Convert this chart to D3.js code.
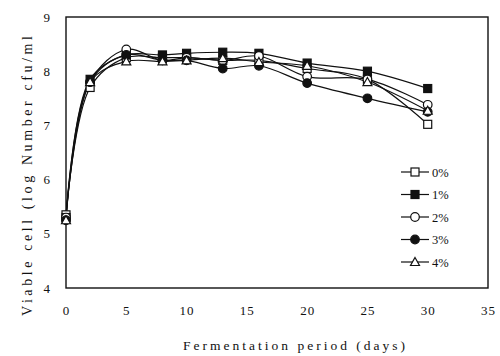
<!DOCTYPE html>
<html lang="en">
<head>
<meta charset="UTF-8">
<title>Viable cell</title>
<script src="https://d3js.org/d3.v7.min.js"></script>
<style>
body { margin: 0; background: #fff; }
text { font-family: 'Liberation Serif', 'DejaVu Serif', serif; fill: #111; }
</style>
</head>
<body>
<svg id="chart" width="500" height="356"></svg>
<script>
// data
const days = [0, 2, 5, 8, 10, 13, 16, 20, 25, 30];
const labels = ['0%', '1%', '2%', '3%', '4%'];
const pct0 = [5.35, 7.7, 8.25, 8.25, 8.25, 8.2, 8.2, 8.05, 7.85, 7.02];
const pct1 = [5.3, 7.85, 8.3, 8.3, 8.33, 8.35, 8.33, 8.15, 8.0, 7.68];
const pct2 = [5.3, 7.8, 8.4, 8.2, 8.25, 8.2, 8.28, 7.9, 7.85, 7.38];
const pct3 = [5.25, 7.8, 8.3, 8.2, 8.2, 8.05, 8.1, 7.78, 7.5, 7.25];
const pct4 = [5.25, 7.8, 8.18, 8.18, 8.2, 8.24, 8.17, 8.1, 7.8, 7.27];
const xTicks = [0, 5, 10, 15, 20, 25, 30, 35];
const yTicks = [4, 5, 6, 7, 8, 9];

const series = [pct0, pct1, pct2, pct3, pct4];
const markers = ['squareOpen', 'squareFilled', 'circleOpen', 'circleFilled', 'triangleOpen'];

const svg = d3.select('#chart');
const x = d3.scaleLinear().domain([0, 35]).range([66, 488]);
const y = d3.scaleLinear().domain([4, 9]).range([288, 17]);

// axes with no tick marks, labels only
const xAxis = svg.append('g')
    .attr('transform', 'translate(0,288)')
    .call(d3.axisBottom(x).tickValues(xTicks).tickSize(0).tickPadding(18).tickFormat(d3.format('d')));
const yAxis = svg.append('g')
    .attr('transform', 'translate(66,0)')
    .call(d3.axisLeft(y).tickValues(yTicks).tickSize(0).tickPadding(16).tickFormat(d3.format('d')));
[xAxis, yAxis].forEach(a => {
    a.select('.domain').remove();
    a.selectAll('text').style('font-size', '13px').style('font-family', "'Liberation Serif', serif");
});
xAxis.selectAll('text').style('letter-spacing', '1px');

// frame
svg.append('rect')
    .attr('x', x(0)).attr('y', y(9))
    .attr('width', x(35) - x(0)).attr('height', y(4) - y(9))
    .attr('fill', 'none').attr('stroke', '#111').attr('stroke-width', 1.4);

// axis titles (the scan uses wide letter spacing)
svg.append('text')
    .attr('x', 294).attr('y', 350)
    .attr('text-anchor', 'middle')
    .attr('textLength', 222).attr('lengthAdjust', 'spacing')
    .style('font-size', '13.5px')
    .text('Fermentation period (days)');
svg.append('text')
    .attr('transform', 'translate(32,176) rotate(-90)')
    .attr('text-anchor', 'middle')
    .attr('textLength', 280).attr('lengthAdjust', 'spacing')
    .style('font-size', '14px')
    .text('Viable cell (log Number cfu/ml');

function drawMarker(g, kind) {
    const open = kind.endsWith('Open');
    const fill = open ? '#fff' : '#111';
    if (kind.startsWith('square')) {
        g.append('rect').attr('x', -4).attr('y', -4).attr('width', 8).attr('height', 8);
    } else if (kind.startsWith('circle')) {
        g.append('circle').attr('r', 4.3);
    } else {
        g.append('path').attr('d', 'M0,-4.5L4.5,3.5L-4.5,3.5Z');
    }
    g.selectAll('*').attr('fill', fill).attr('stroke', '#111').attr('stroke-width', 1.2);
}

const line = d3.line()
    .x((d, i) => x(days[i]))
    .y(d => y(d))
    .curve(d3.curveCatmullRom.alpha(0.5));

series.forEach(vals => {
    svg.append('path')
        .attr('d', line(vals))
        .attr('fill', 'none')
        .attr('stroke', '#111')
        .attr('stroke-width', 1.2);
});
series.forEach((vals, si) => {
    vals.forEach((v, i) => {
        const g = svg.append('g').attr('transform', `translate(${x(days[i])},${y(v)})`);
        drawMarker(g, markers[si]);
    });
});

// legend
const legend = svg.append('g');
labels.forEach((lab, i) => {
    const ly = 172 + i * 22.5;
    const g = legend.append('g').attr('transform', `translate(0,${ly})`);
    g.append('line').attr('x1', 401).attr('x2', 429).attr('y1', 0).attr('y2', 0)
        .attr('stroke', '#111').attr('stroke-width', 1.2);
    drawMarker(g.append('g').attr('transform', 'translate(415,0)'), markers[i]);
    g.append('text').attr('x', 432).attr('y', 4.5)
        .style('font-size', '12.5px').text(lab);
});
</script>
</body>
</html>
